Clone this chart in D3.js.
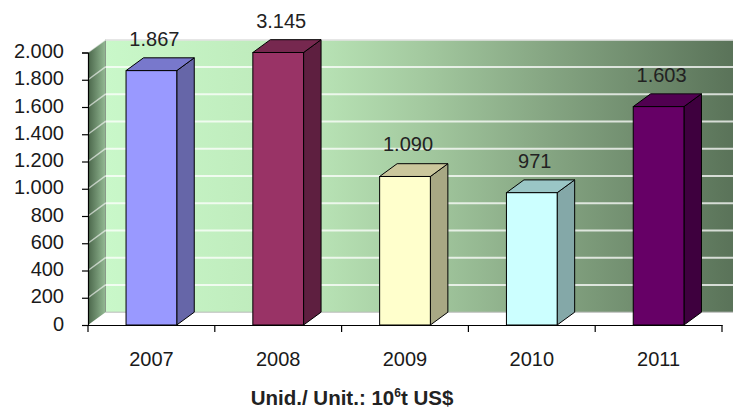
<!DOCTYPE html>
<html><head><meta charset="utf-8">
<script src="https://cdn.jsdelivr.net/npm/d3@7"></script>
<style>body{margin:0;background:#fff}svg{display:block}</style>
</head><body>
<svg id="chart" width="733" height="409"></svg>
<script>
// ---- data ----
const years = ["2007", "2008", "2009", "2010", "2011"];
const values = [1867, 3145, 1090, 971, 1603];
const yTicks = [0, 200, 400, 600, 800, 1000, 1200, 1400, 1600, 1800, 2000];
const frontColors = ["#9999ff", "#993366", "#ffffcc", "#ccffff", "#660066"];
const sideColors  = ["#6666a8", "#5e1f40", "#a8a884", "#84a8a8", "#3e003e"];
const topColors   = ["#7878cc", "#76284f", "#cbc79c", "#9ac6c6", "#510051"];
const unitMain = "Unid./ Unit.: 10";
const unitSup = "6";
const unitTail = "t US$";

// ---- layout ----
const W = 733, H = 409;
const pLeft = 88, pRight = 722, pBottom = 325, pTop = 52.5;
const DX = 17.5, DY = -12.8;
const FONT = "Liberation Sans, Arial, sans-serif";

const svg = d3.select("#chart");
const fmt = d3.formatLocale({decimal: ",", thousands: ".", grouping: [3], currency: ["", ""]}).format(",d");

const y = d3.scaleLinear().domain([0, 2000]).range([pBottom, pTop]);
const xb = d3.scaleBand().domain(years).range([pLeft, pRight]).paddingInner(0.6).paddingOuter(0.3);
const xs = d3.scaleBand().domain(years).range([pLeft, pRight]).padding(0);

const defs = svg.append("defs");
const gw = defs.append("linearGradient").attr("id", "wallG").attr("x1", "0").attr("x2", "1").attr("y1", "0").attr("y2", "0");
[["0%", "#c9f8c9"], ["30%", "#bde9ba"], ["50%", "#a4caa0"], ["70%", "#86a683"], ["100%", "#5a7359"]]
  .forEach(s => gw.append("stop").attr("offset", s[0]).attr("stop-color", s[1]));
const gs = defs.append("linearGradient").attr("id", "sideG").attr("x1", "0").attr("x2", "1").attr("y1", "0").attr("y2", "0");
[["0%", "#4a664a"], ["100%", "#94ba94"]]
  .forEach(s => gs.append("stop").attr("offset", s[0]).attr("stop-color", s[1]));

// back wall
svg.append("rect")
  .attr("x", pLeft + DX).attr("y", y(2000) + DY)
  .attr("width", W - (pLeft + DX)).attr("height", y(0) - y(2000))
  .attr("fill", "url(#wallG)");
svg.append("line")
  .attr("x1", pLeft + DX).attr("x2", W).attr("y1", y(2000) + DY).attr("y2", y(2000) + DY)
  .attr("stroke", "#9a9a9a").attr("stroke-width", 1.5);

// side wall
svg.append("polygon")
  .attr("points", [[pLeft, y(0)], [pLeft, y(2000)], [pLeft + DX, y(2000) + DY], [pLeft + DX, y(0) + DY]].join(" "))
  .attr("fill", "url(#sideG)");
svg.append("line")
  .attr("x1", pLeft + DX).attr("x2", pLeft + DX).attr("y1", y(2000) + DY).attr("y2", y(0) + DY)
  .attr("stroke", "#8a9a8a").attr("stroke-width", 1);

// floor edge
svg.append("line")
  .attr("x1", pLeft + DX).attr("x2", W).attr("y1", y(0) + DY).attr("y2", y(0) + DY)
  .attr("stroke", "#bbbbbb").attr("stroke-width", 1);

// gridlines
const grid = svg.append("g");
yTicks.filter(t => t > 0).forEach(t => {
  grid.append("line")
    .attr("x1", pLeft + DX).attr("x2", W).attr("y1", y(t) + DY).attr("y2", y(t) + DY)
    .attr("stroke", "#ffffff").attr("stroke-opacity", 0.75).attr("stroke-width", 2);
  grid.append("line")
    .attr("x1", pLeft).attr("x2", pLeft + DX).attr("y1", y(t)).attr("y2", y(t) + DY)
    .attr("stroke", "#ffffff").attr("stroke-opacity", 0.6).attr("stroke-width", 1.5);
});

// bars
const bars = svg.append("g").selectAll("g").data(years).join("g");
bars.each(function (d, i) {
  const g = d3.select(this);
  const v = Math.min(values[i], 2000);
  const x0 = xb(d), x1 = xb(d) + xb.bandwidth();
  const yt = y(v), yb = y(0);
  g.append("polygon")
    .attr("points", [[x1, yb], [x1, yt], [x1 + DX, yt + DY], [x1 + DX, yb + DY]].join(" "))
    .attr("fill", sideColors[i]).attr("stroke", "#000").attr("stroke-width", 1).attr("stroke-linejoin", "round");
  g.append("polygon")
    .attr("points", [[x0, yt], [x1, yt], [x1 + DX, yt + DY], [x0 + DX, yt + DY]].join(" "))
    .attr("fill", topColors[i]).attr("stroke", "#000").attr("stroke-width", 1).attr("stroke-linejoin", "round");
  g.append("rect")
    .attr("x", x0).attr("y", yt).attr("width", x1 - x0).attr("height", yb - yt)
    .attr("fill", frontColors[i]).attr("stroke", "#000").attr("stroke-width", 1);
  g.append("text")
    .attr("x", (x0 + x1) / 2 + 3).attr("y", yt - 25)
    .attr("text-anchor", "middle")
    .attr("font-family", FONT).attr("font-size", 20)
    .attr("fill", "#222")
    .text(fmt(values[i]));
});

// y axis
const ya = svg.append("g").attr("transform", `translate(${pLeft},0)`)
  .call(d3.axisLeft(y).tickValues(yTicks).tickFormat(fmt).tickSize(6).tickPadding(18));
ya.select(".domain").attr("stroke", "#000").attr("stroke-width", 1.2);
ya.selectAll(".tick line").attr("stroke", "#000").attr("stroke-width", 1.2);
ya.selectAll(".tick text").attr("font-family", FONT)
  .attr("font-size", 20).attr("dy", "0.26em").attr("fill", "#1a1a1a");

// x axis
const xa = svg.append("g").attr("transform", `translate(0,${pBottom})`)
  .call(d3.axisBottom(xs).tickSize(0).tickPadding(27));
xa.select(".domain").attr("stroke", "#000").attr("stroke-width", 1.2);
xa.selectAll(".tick text").attr("font-family", FONT)
  .attr("font-size", 20).attr("fill", "#1a1a1a");
const bounds = years.map(d => xs(d)).concat([xs(years[years.length - 1]) + xs.step()]);
xa.selectAll(".bt").data(bounds).join("line").attr("class", "bt")
  .attr("x1", d => d).attr("x2", d => d).attr("y1", 0).attr("y2", 7)
  .attr("stroke", "#000").attr("stroke-width", 1.2);

// unit label
const ut = svg.append("text")
  .attr("x", 352).attr("y", 405).attr("text-anchor", "middle")
  .attr("font-family", FONT).attr("font-weight", "bold")
  .attr("font-size", 20.5).attr("fill", "#222");
ut.append("tspan").text(unitMain);
ut.append("tspan").attr("font-size", 12).attr("dy", -8).text(unitSup);
ut.append("tspan").attr("dy", 8).text(unitTail);
</script>
</body></html>
